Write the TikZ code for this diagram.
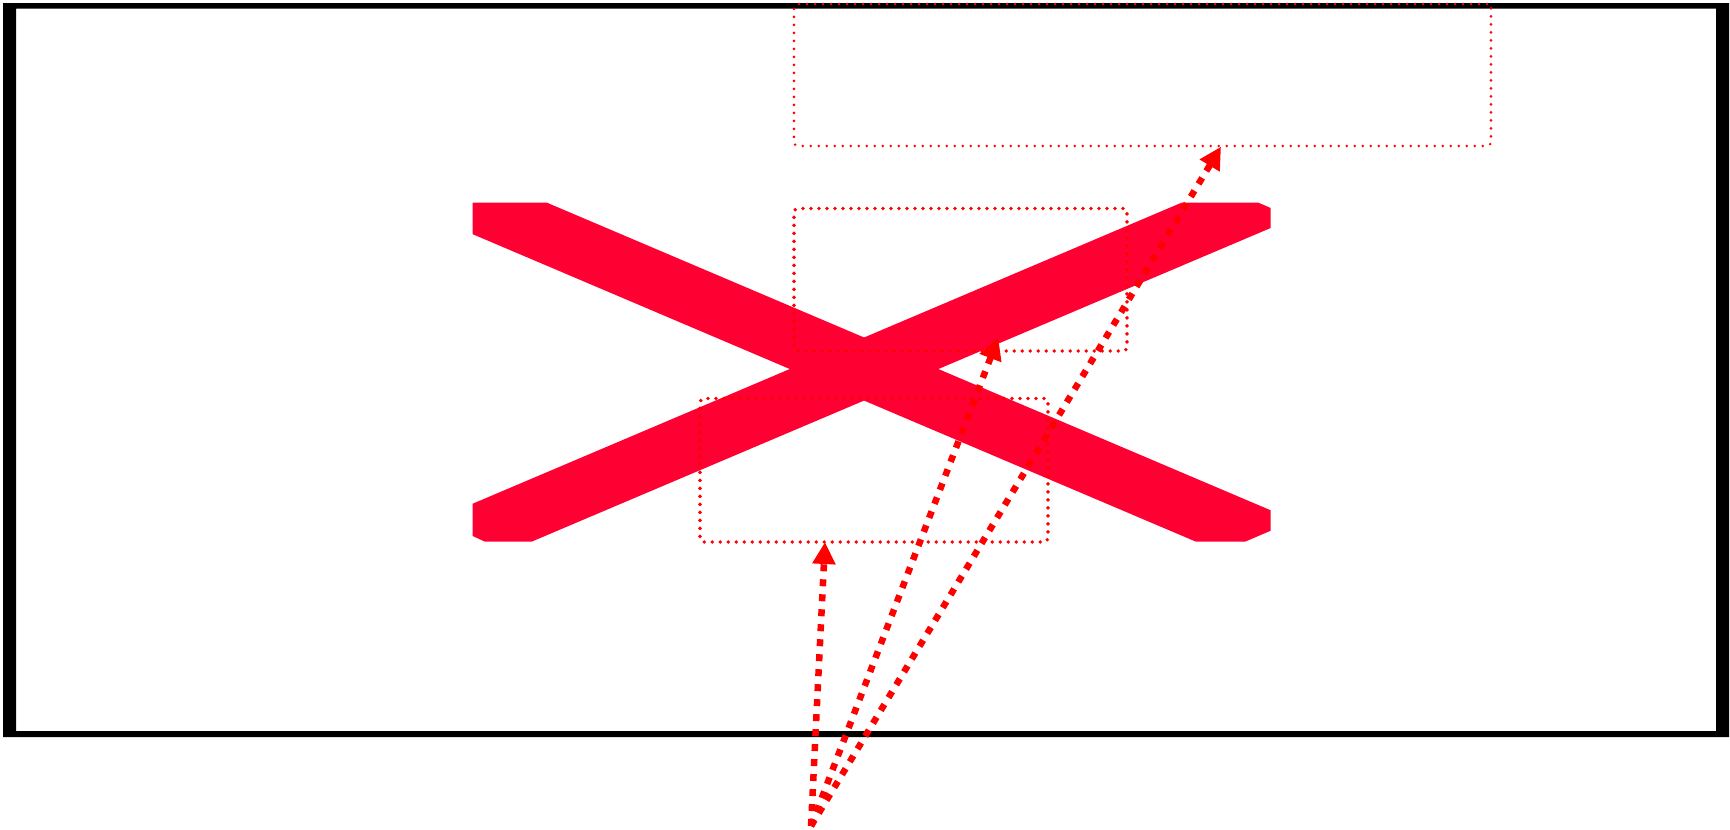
\documentclass[tikz,border=0pt]{standalone}
\usetikzlibrary{arrows.meta,calc}
\definecolor{xred}{HTML}{FF0033}
\begin{document}
\begin{tikzpicture}[x=1pt,y=-1pt,
 dotbox/.style={draw=red, line width=3.8pt, dash pattern=on 0pt off 8pt, line cap=round, rounded corners=4pt, inner sep=0pt, outer sep=0pt},
 thindotbox/.style={dotbox, line width=2.8pt},
 dotarrow/.style={draw=red, line width=6.5pt, dash pattern=on 7pt off 8pt, -{Triangle[length=22pt,width=22pt]}},
]
\useasboundingbox (0,0) rectangle (1730,830);
% frame
\fill[black, even odd rule] (3,3) rectangle (1729,737) (16,8.5) rectangle (1716,731);
% big X
\fill[xred] (472.7,202.5) -- (546.5,202.5) -- (1270.7,510.3) -- (1270.7,530.7) -- (1245,541.7) -- (1196,541.7) -- (472.7,234.2) -- cycle;
\fill[xred] (472.7,503.7) -- (1182,202.5) -- (1258,202.5) -- (1270.7,208) -- (1270.7,228) -- (531.5,541.7) -- (485,541.7) -- (472.7,536) -- cycle;
% boxes
\node[thindotbox, minimum width=697pt, minimum height=142pt] (topbox) at (1142.5,75) {};
\node[dotbox, minimum width=333pt, minimum height=142.5pt] (midbox) at (960.5,279.75) {};
\node[dotbox, minimum width=348pt, minimum height=143.5pt] (lowbox) at (874,470.25) {};
% connectors
\coordinate (src) at (811,826);
\coordinate (t1) at ($(lowbox.south west)+(125,0)$);
\coordinate (t2) at ($(midbox.south west)+(204.3,-13.5)$);
\coordinate (t3) at ($(topbox.south west)+(427,0.7)$);
\draw[dotarrow] (src) -- (t1);
\draw[dotarrow] (src) -- (t2);
\draw[dotarrow] (src) -- (t3);
\end{tikzpicture}
\end{document}
